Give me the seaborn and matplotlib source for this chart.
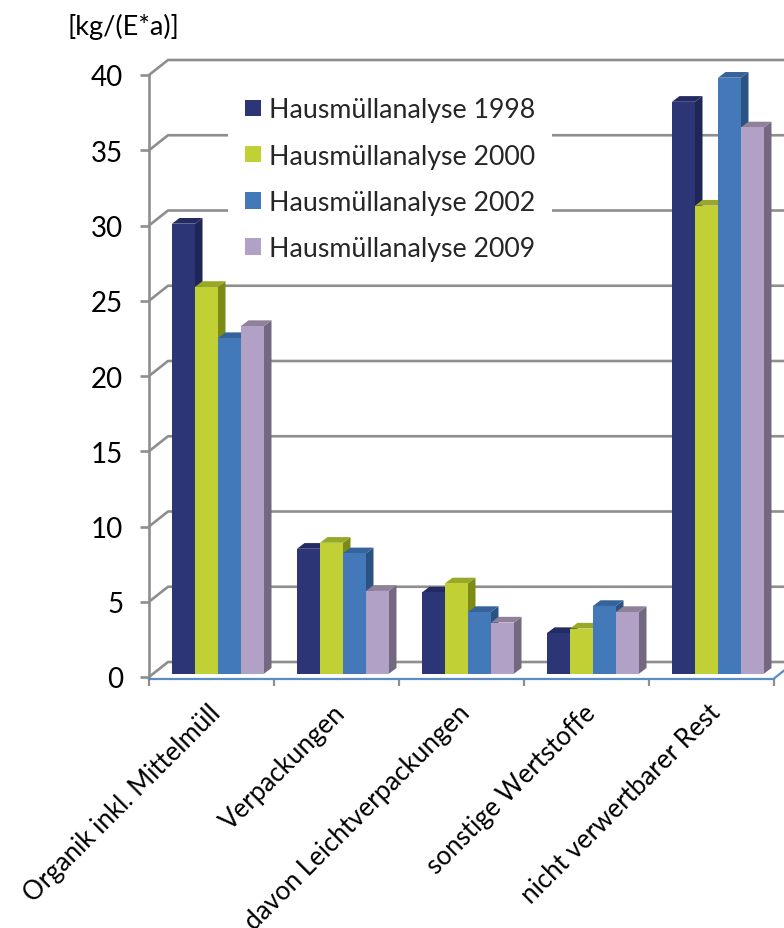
# LIBS
import matplotlib
matplotlib.use('Agg')
import matplotlib.pyplot as plt
from matplotlib.patches import Polygon
from matplotlib.transforms import Affine2D
import seaborn as sns
import pandas as pd

# Data
categories = ['Organik inkl. Mittelmüll', 'Verpackungen', 'davon Leichtverpackungen',
              'sonstige Wertstoffe', 'nicht verwertbarer Rest']
values_1998 = [29.9, 8.3, 5.4, 2.7, 38.0]
values_2000 = [25.7, 8.7, 6.0, 3.0, 31.1]
values_2002 = [22.3, 8.0, 4.1, 4.5, 39.6]
values_2009 = [23.1, 5.5, 3.4, 4.1, 36.3]
series_names = ['Hausmüllanalyse 1998', 'Hausmüllanalyse 2000',
                'Hausmüllanalyse 2002', 'Hausmüllanalyse 2009']
y_ticks = [0, 5, 10, 15, 20, 25, 30, 35, 40]

# Colours: face, top and side of the 3D columns
face_colors = ['#2c3576', '#c0d035', '#4378b9', '#b2a1c7']
top_colors = ['#232b62', '#9aa829', '#36639b', '#8f8199']
side_colors = ['#1f2655', '#7d8a16', '#2a5282', '#746880']
grid_color = '#8e8e8e'
axis_blue = '#5b8cc4'

# Long table for seaborn
data = pd.DataFrame({
    'category': categories * 4,
    'series': [s for s in series_names for _ in categories],
    'value': values_1998 + values_2000 + values_2002 + values_2009,
})

sns.set_theme(style='white')
plt.rcParams['font.family'] = ['Lato', 'DejaVu Sans']

W, H = 784, 929
fig = plt.figure(figsize=(W / 100, H / 100), dpi=100)
ax = fig.add_axes([149 / W, 1 - 678 / H, 625 / W, 602 / H])

sns.barplot(data=data, x='category', y='value', hue='series', hue_order=series_names,
            palette=face_colors, width=0.736, gap=0, saturation=1, ax=ax, zorder=5,
            linewidth=0, edgecolor='none')
ax.set_xlim(-0.5, 4.5)
ax.set_ylim(0, 40)
ax.set_xlabel('')
ax.set_ylabel('')

# One unit in pixels, used to turn the perspective offsets into data units
px_x = 1 / 125
px_y = 40 / 602

# Back wall grid with the diagonal going to the front axis
back_dx = 19 * px_x
back_dy = 15 * px_y
for tick in y_ticks:
    ax.plot([-0.5, -0.5 + back_dx, 4.5 + back_dx], [tick, tick + back_dy, tick + back_dy],
            color=grid_color, lw=1.9, clip_on=False, zorder=1, solid_capstyle='butt')
ax.plot([4.5, 4.5 + back_dx], [-1.5 * px_y, back_dy - 1.5 * px_y], color=axis_blue, lw=1.6,
        clip_on=False, zorder=1)

# Columns stand a little behind the front plane
shift = Affine2D().translate(6.5, 3.3)
bar_transform = ax.transData + shift
depth_x = 7.5 * px_x
depth_y = 5.7 * px_y

for i, container in enumerate(ax.containers):
    for bar in container:
        x0 = bar.get_x()
        x1 = x0 + bar.get_width()
        top = bar.get_height()
        bar.set_transform(bar_transform)
        bar.set_clip_on(False)
        bar.set_zorder(5 + i * 3 + 2)
        side = Polygon([(x1, 0), (x1 + depth_x, depth_y), (x1 + depth_x, top + depth_y), (x1, top)],
                       facecolor=side_colors[i], edgecolor='none', transform=bar_transform,
                       clip_on=False, zorder=5 + i * 3)
        roof = Polygon([(x0, top), (x0 + depth_x, top + depth_y), (x1 + depth_x, top + depth_y), (x1, top)],
                       facecolor=top_colors[i], edgecolor='none', transform=bar_transform,
                       clip_on=False, zorder=5 + i * 3 + 1)
        ax.add_patch(side)
        ax.add_patch(roof)

# Axes
sns.despine(ax=ax, top=True, right=True)
ax.spines['left'].set_color(grid_color)
ax.spines['left'].set_linewidth(1.9)
ax.spines['bottom'].set_color(axis_blue)
ax.spines['bottom'].set_linewidth(1.6)
ax.spines['bottom'].set_position(('outward', 1.2))

ax.set_yticks(y_ticks)
ax.tick_params(axis='y', left=True, length=6.5, width=1.9, color=grid_color,
               labelsize=20, labelcolor='black', pad=12)

ax.set_xticks(range(len(categories)))
ax.set_xticklabels(categories, rotation=45, ha='right', rotation_mode='anchor')
ax.tick_params(axis='x', which='major', bottom=False, labelsize=18.6, labelcolor='black', pad=9)
ax.set_xticks([-0.5, 0.5, 1.5, 2.5, 3.5, 4.5], minor=True)
ax.tick_params(axis='x', which='minor', bottom=True, length=5, width=1.6, color=grid_color)
for label in ax.get_xticklabels():
    label.set_transform(label.get_transform() + Affine2D().translate(-4, 0))

fig.text(68 / W, 1 - 27 / H, '[kg/(E*a)]', fontsize=19.5, color='black', va='center', ha='left')

# Legend sits on a white box that hides the grid
sns.move_legend(ax, 'upper left', bbox_to_anchor=(228 / W, 1 - 81 / H),
                bbox_transform=fig.transFigure, title=None, frameon=True, framealpha=1,
                facecolor='white', edgecolor='none', fontsize=19.3, fancybox=False,
                handlelength=0.57, handleheight=0.57, handletextpad=0.3,
                labelspacing=0.79, borderaxespad=0, borderpad=0.65)
ax.get_legend().set_zorder(40)

fig.savefig('out.png', dpi=100)
